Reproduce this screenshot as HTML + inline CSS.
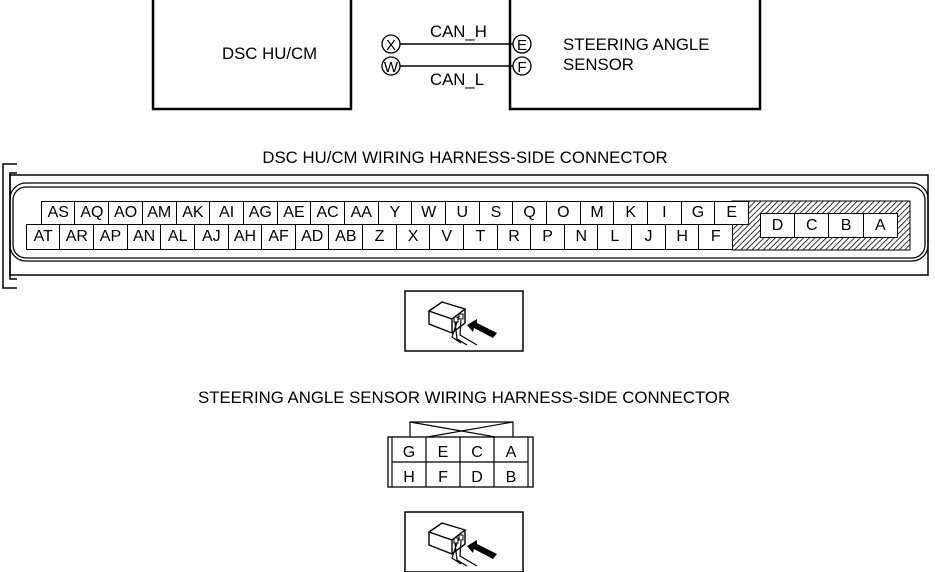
<!DOCTYPE html>
<html><head><style>
body{margin:0;background:#fff;width:935px;height:572px;overflow:hidden;position:relative}
svg{display:block;position:absolute;left:0;top:0}
text{font-family:"Liberation Sans",sans-serif;font-size:16.8px;fill:#000}
.row{position:absolute;display:flex;font-family:"Liberation Sans",sans-serif;font-size:16px;}
.row div{flex:1;border:1.2px solid #000;margin-left:-1.2px;background:#fff;display:flex;align-items:center;justify-content:center;box-sizing:border-box}
</style></head><body>
<svg width="935" height="572" viewBox="0 0 935 572" xmlns="http://www.w3.org/2000/svg">
<defs>
<pattern id="h" patternUnits="userSpaceOnUse" width="4" height="4" patternTransform="rotate(45)"><rect width="4" height="4" fill="#fff"/><line x1="0" y1="0" x2="0" y2="4" stroke="#000" stroke-width="1.6"/></pattern>
<g id="ic">
<rect x="0" y="0" width="118" height="60" fill="#fff" stroke="#000" stroke-width="1.5"/>
<path d="M24 20 L37 11 L60 18 L47 28 Z M24 20 L24 33 L47 42 L47 28 M60 18 L60 32 L47 42" fill="#fff" stroke="#000" stroke-width="1.4"/>
<rect x="49" y="26" width="4" height="5" fill="none" stroke="#000"/><rect x="54" y="23" width="4" height="5" fill="none" stroke="#000"/>
<path d="M50 31 L52 48 L62 54 M56 29 L55 44 L72 54 M52 31 L47 46 L56 52" fill="none" stroke="#000" stroke-width="1.2"/>
<path d="M62 34 L72 28 L72 32 L92 42 L88 47 L69 37 L68 41 Z" fill="#000"/>
</g>
</defs>
<rect x="153" y="-2" width="198" height="111" fill="none" stroke="#000" stroke-width="2.5"/>
<rect x="510" y="-2" width="250" height="111" fill="none" stroke="#000" stroke-width="2.5"/>
<text x="222" y="59">DSC  HU/CM</text>
<text x="563" y="50">STEERING ANGLE</text>
<text x="563" y="70">SENSOR</text>
<text x="430" y="37">CAN_H</text>
<text x="430" y="85">CAN_L</text>
<line x1="399" y1="44" x2="513" y2="44" stroke="#000" stroke-width="1.5"/>
<line x1="399" y1="66" x2="513" y2="66" stroke="#000" stroke-width="1.5"/>
<g fill="#fff" stroke="#000" stroke-width="1.3">
<circle cx="391" cy="44" r="9"/><circle cx="391" cy="66" r="9"/><circle cx="522" cy="44" r="9"/><circle cx="522" cy="66" r="9"/></g>
<g text-anchor="middle"><text x="391" y="50" style="font-size:15px">X</text><text x="391" y="72" style="font-size:15px">W</text><text x="522" y="50" style="font-size:15px">E</text><text x="522" y="72" style="font-size:15px">F</text></g>

<text x="465" y="163" text-anchor="middle">DSC HU/CM WIRING HARNESS-SIDE CONNECTOR</text>
<path d="M17 164 H3 V288 H17 M17 173 H10 V279 H17" fill="none" stroke="#000" stroke-width="1.5"/>
<rect x="10" y="175" width="918" height="100" fill="none" stroke="#000" stroke-width="1.5"/>
<rect x="10" y="183" width="918" height="78" rx="16" fill="none" stroke="#000" stroke-width="1.3"/>
<rect x="13" y="187" width="912" height="71" rx="13" fill="none" stroke="#000" stroke-width="1.3"/>
<rect x="732" y="201" width="178" height="49" fill="url(#h)" stroke="#000"/>
<g transform="translate(405,291)"><use href="#ic"/></g>

<text x="198" y="403">STEERING ANGLE  SENSOR WIRING HARNESS-SIDE CONNECTOR</text>
<path d="M410 440 V422 H513 V440 M410 422 L513 440 M513 422 L410 440" fill="none" stroke="#000" stroke-width="1.2"/>
<rect x="388" y="437" width="145" height="50" fill="#fff" stroke="#000" stroke-width="1.3"/>
<g fill="none" stroke="#000" stroke-width="1.2"><path d="M392 437 V487 M392 462 H528 M426 437 V487 M460 437 V487 M494 437 V487 M528 437 V487"/></g>
<g text-anchor="middle" style="font-size:16px">
<text x="409" y="457" style="font-size:16px">G</text><text x="443" y="457" style="font-size:16px">E</text><text x="477" y="457" style="font-size:16px">C</text><text x="511" y="457" style="font-size:16px">A</text>
<text x="409" y="482" style="font-size:16px">H</text><text x="443" y="482" style="font-size:16px">F</text><text x="477" y="482" style="font-size:16px">D</text><text x="511" y="482" style="font-size:16px">B</text></g>
<g transform="translate(405,512)"><use href="#ic"/></g>
</svg>
<div class="row" style="left:42px;top:201px;width:707px;height:24px">
<div>AS</div><div>AQ</div><div>AO</div><div>AM</div><div>AK</div><div>AI</div><div>AG</div><div>AE</div><div>AC</div><div>AA</div><div>Y</div><div>W</div><div>U</div><div>S</div><div>Q</div><div>O</div><div>M</div><div>K</div><div>I</div><div>G</div><div>E</div></div>
<div class="row" style="left:27px;top:224px;width:706px;height:26px">
<div>AT</div><div>AR</div><div>AP</div><div>AN</div><div>AL</div><div>AJ</div><div>AH</div><div>AF</div><div>AD</div><div>AB</div><div>Z</div><div>X</div><div>V</div><div>T</div><div>R</div><div>P</div><div>N</div><div>L</div><div>J</div><div>H</div><div>F</div></div>
<div class="row" style="left:761px;top:213px;width:137px;height:25px">
<div>D</div><div>C</div><div>B</div><div>A</div></div>
</body></html>
